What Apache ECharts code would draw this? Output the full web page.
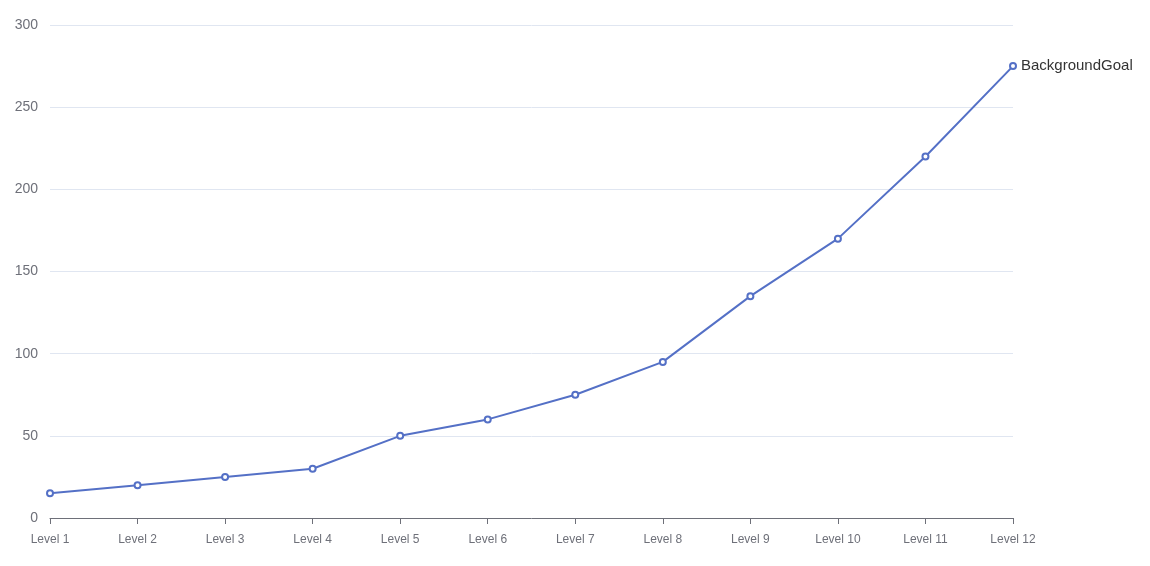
<!DOCTYPE html>
<html>
<head>
<meta charset="utf-8">
<script src="https://cdn.jsdelivr.net/npm/echarts@6/dist/echarts.min.js"></script>
<style>html,body{margin:0;padding:0;background:#fff}#c{width:1150px;height:566px}</style>
</head>
<body>
<div id="c"></div>
<script>
const categories = ['Level 1','Level 2','Level 3','Level 4','Level 5','Level 6','Level 7','Level 8','Level 9','Level 10','Level 11','Level 12'];
const seriesName = 'BackgroundGoal';
const values = [15, 20, 25, 30, 50, 60, 75, 95, 135, 170, 220, 275];

const chart = echarts.init(document.getElementById('c'), null, {renderer: 'canvas'});
chart.setOption({
  animation: false,
  grid: {left: 50, right: 137, top: 25, bottom: 48, containLabel: false},
  xAxis: {
    type: 'category',
    data: categories,
    boundaryGap: false,
    axisLine: {lineStyle: {color: '#6E7079'}},
    axisTick: {alignWithLabel: true, length: 6, lineStyle: {color: '#6E7079'}},
    axisLabel: {color: '#6E7079', fontSize: 12, margin: 16, interval: 0, fontFamily: 'Liberation Sans, Arial, sans-serif'}
  },
  yAxis: {
    type: 'value',
    min: 0, max: 300, interval: 50,
    axisLabel: {color: '#6E7079', fontSize: 14, margin: 12, fontFamily: 'Liberation Sans, Arial, sans-serif'},
    splitLine: {lineStyle: {color: '#E0E6F1'}}
  },
  series: [{
    name: seriesName,
    type: 'line',
    data: values,
    color: '#5470c6',
    symbol: 'emptyCircle',
    symbolSize: 6,
    lineStyle: {width: 2},
    endLabel: {show: true, formatter: '{a}', fontSize: 15, color: '#333', distance: 8, fontFamily: 'Liberation Sans, Arial, sans-serif'}
  }]
});
</script>
</body>
</html>
